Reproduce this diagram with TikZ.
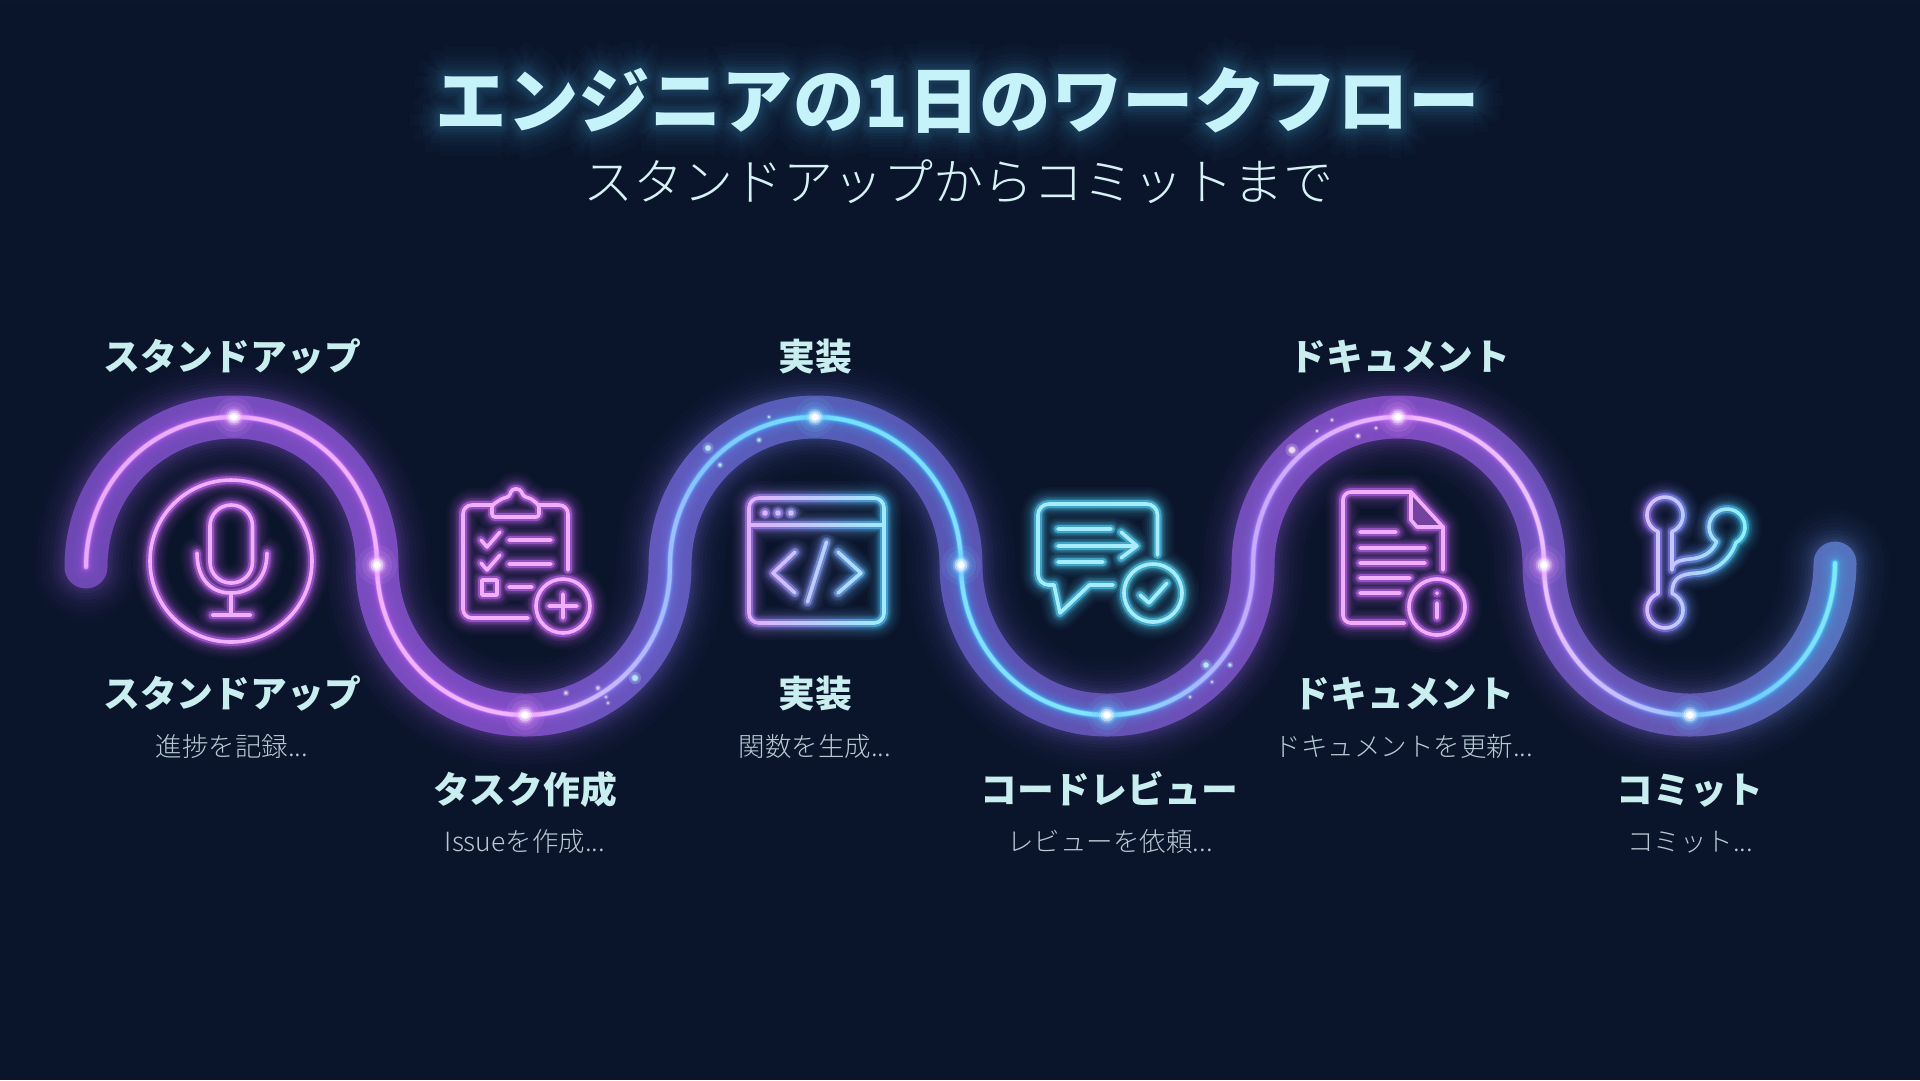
\documentclass[tikz,border=0pt]{standalone}
\usepackage{fontspec}
\usetikzlibrary{fadings,shadings}
\setmainfont{Noto Sans CJK JP}
\newfontfamily\jpfont{Noto Sans CJK JP}
\newfontfamily\jplight{Noto Sans CJK JP Light}
\definecolor{bgc}{HTML}{0A142A}
\definecolor{gridc}{HTML}{101C36}
\definecolor{titlec}{HTML}{C6F3F9}
\definecolor{labelc}{HTML}{C8EEF0}
\definecolor{subc}{HTML}{B6C8D2}
\definecolor{subtc}{HTML}{D6F2F6}
\definecolor{tglow}{HTML}{3C96C4}
\definecolor{sparkp}{HTML}{E89CFF}
\definecolor{sparkb}{HTML}{66C4FF}
% --- shading colour stops: stop = 25 + x/38.4
\pgfdeclarehorizontalshading{bandshade}{100bp}{
 rgb(0bp)=(.44,.29,.72); rgb(25bp)=(.44,.29,.72); rgb(31.09bp)=(.49,.31,.78);
 rgb(38.67bp)=(.51,.31,.79); rgb(42.45bp)=(.40,.37,.78); rgb(46.22bp)=(.35,.39,.75);
 rgb(50.03bp)=(.37,.35,.74); rgb(53.83bp)=(.41,.34,.74); rgb(57.63bp)=(.48,.32,.77);
 rgb(61.41bp)=(.53,.31,.79); rgb(65.21bp)=(.44,.33,.75); rgb(69.01bp)=(.41,.37,.74);
 rgb(72.79bp)=(.35,.47,.78); rgb(75bp)=(.35,.47,.78); rgb(100bp)=(.35,.47,.78)}
\pgfdeclarehorizontalshading{glowshade}{100bp}{
 rgb(0bp)=(.70,.36,.95); rgb(25bp)=(.70,.36,.95); rgb(38.67bp)=(.72,.38,.97);
 rgb(42.45bp)=(.45,.55,1); rgb(46.22bp)=(.25,.70,1); rgb(50.03bp)=(.25,.70,1);
 rgb(53.83bp)=(.25,.72,1); rgb(57.63bp)=(.60,.48,1); rgb(61.41bp)=(.74,.38,.97);
 rgb(65.21bp)=(.68,.45,1); rgb(69.01bp)=(.35,.62,1); rgb(72.79bp)=(.25,.78,1);
 rgb(75bp)=(.25,.78,1); rgb(100bp)=(.25,.78,1)}
\pgfdeclarehorizontalshading{coreshade}{100bp}{
 rgb(0bp)=(.91,.66,.98); rgb(25bp)=(.91,.66,.98); rgb(35.42bp)=(.95,.70,1);
 rgb(38.67bp)=(.95,.72,1); rgb(41.7bp)=(.72,.72,1); rgb(43.2bp)=(.50,.78,1);
 rgb(46.22bp)=(.45,.88,1); rgb(50.03bp)=(.50,.88,1); rgb(53.83bp)=(.50,.90,1);
 rgb(55.73bp)=(.60,.76,1); rgb(57.63bp)=(.78,.66,1); rgb(61.41bp)=(.95,.72,1);
 rgb(65.21bp)=(.92,.76,1); rgb(67.19bp)=(.78,.74,1); rgb(69.01bp)=(.58,.78,1);
 rgb(70.83bp)=(.44,.82,1); rgb(72.79bp)=(.50,.92,.97); rgb(75bp)=(.50,.92,.97); rgb(100bp)=(.50,.92,.97)}
\pgfdeclarehorizontalshading{iconshade}{100bp}{
 rgb(0bp)=(.75,.38,.94); rgb(25bp)=(.75,.38,.94); rgb(43.23bp)=(.75,.38,.94);
 rgb(44.5bp)=(.69,.50,1); rgb(46.22bp)=(.54,.63,1); rgb(48.02bp)=(.31,.78,1);
 rgb(55.99bp)=(.31,.82,.94); rgb(58.85bp)=(.75,.38,.94); rgb(63.54bp)=(.75,.38,.94);
 rgb(67.7bp)=(.63,.44,1); rgb(68.75bp)=(.50,.56,1); rgb(70.31bp)=(.25,.78,.94);
 rgb(75bp)=(.25,.78,.94); rgb(100bp)=(.25,.78,.94)}
\pgfdeclarehorizontalshading{iconcore}{100bp}{
 rgb(0bp)=(.94,.69,1); rgb(25bp)=(.94,.69,1); rgb(43.23bp)=(.94,.69,1);
 rgb(44.5bp)=(.88,.69,1); rgb(46.22bp)=(.75,.80,1); rgb(48.02bp)=(.63,.92,1);
 rgb(55.99bp)=(.66,.93,1); rgb(58.85bp)=(.94,.69,1); rgb(63.54bp)=(.94,.69,1);
 rgb(67.7bp)=(.85,.75,1); rgb(68.75bp)=(.75,.78,1); rgb(70.31bp)=(.56,.94,1);
 rgb(75bp)=(.56,.94,1); rgb(100bp)=(.56,.94,1)}
% --- geometry
\newcommand\wavepath{(86,567) .. controls (86,484) and (151,417) .. (234,417)
 .. controls (316,417) and (377,484) .. (377,565)
 .. controls (377,648) and (443,715) .. (525,715)
 .. controls (607,715) and (670,649) .. (670,566)
 .. controls (670,484) and (733,417) .. (815,417)
 .. controls (897,417) and (961,484) .. (961,565)
 .. controls (961,648) and (1025,715) .. (1107,715)
 .. controls (1189,715) and (1253,649) .. (1253,566)
 .. controls (1253,484) and (1316,417) .. (1398,417)
 .. controls (1480,417) and (1544,484) .. (1544,565)
 .. controls (1544,648) and (1608,715) .. (1690,715)
 .. controls (1772,715) and (1835,646) .. (1835,563)}
\tikzset{wv/.style={line cap=round,line join=round},
 ic/.style={line cap=round,line join=round},
 canvasfade/.style={shade,path fading=#1,fit fading=false,fading transform={shift={(960,540)}}},
 tt/.style={anchor=base,inner sep=0pt,text=titlec,font=\jpfont\bfseries\fontsize{71.5}{75}\selectfont},
 st/.style={anchor=base,inner sep=0pt,text=subtc,font=\jplight\fontsize{50}{54}\selectfont},
 lb/.style={anchor=base,inner sep=0pt,text=labelc,font=\jpfont\bfseries\fontsize{36.8}{40}\selectfont},
 sb/.style={anchor=base,inner sep=0pt,text=subc,font=\jplight\fontsize{26.5}{30}\selectfont}}
\newcommand\iconpaths{%
 % microphone
 \draw[ic] (231,561) circle (81);
 \draw[ic,rounded corners=21] (210,505) rectangle (252.5,583);
 \draw[ic] (197,553) .. controls (197,580) and (212,593) .. (231,593) .. controls (250,593) and (267,580) .. (267,553);
 \draw[ic] (231,593) -- (231,615);
 \draw[ic] (212.5,615) -- (250.5,615);
 % clipboard
 \draw[ic,rounded corners=9] (568,570) -- (568,505) -- (539,505);
 \draw[ic,rounded corners=9] (492,505) -- (463,505) -- (463,618) -- (528,618);
 \draw[ic,rounded corners=3] (492,517) -- (492,505) -- (503,498) -- (509,497) -- (512,489) -- (520,489) -- (524,497) -- (530,498) -- (539,505) -- (539,517) -- cycle;
 \draw[ic] (481,540) -- (487,547) -- (500,532);
 \draw[ic] (509,540) -- (551,540);
 \draw[ic] (481,563) -- (487,570) -- (500,555);
 \draw[ic] (509,564) -- (551,564);
 \draw[ic] (482,580) rectangle (497,595);
 \draw[ic] (509,587) -- (532,587);
 \draw[ic] (563,606) circle (27);
 \draw[ic] (549,606) -- (577,606);
 \draw[ic] (563,594) -- (563,618);
 % code window
 \draw[ic,rounded corners=10] (749,498) rectangle (884,623);
 \draw[ic] (749,525) -- (884,525);
 \draw[ic] (765,513) circle (1.4);
 \draw[ic] (778,513) circle (1.4);
 \draw[ic] (791,513) circle (1.4);
 \draw[ic] (795,552) -- (773,573) -- (795,593);
 \draw[ic] (826.5,542) -- (807.5,602);
 \draw[ic] (838,552) -- (861,573) -- (838,593);
 % comment
 \draw[ic,rounded corners=11] (1157.5,555) -- (1157.5,504) -- (1038,504) -- (1038,585) -- (1054,585);
 \draw[ic] (1054,585) -- (1060,613) -- (1089.5,585) -- (1113,585);
 \draw[ic] (1058,529) -- (1111,529);
 \draw[ic] (1058,546) -- (1135,546);
 \draw[ic] (1121,532) -- (1137,546) -- (1121,558);
 \draw[ic] (1058,562) -- (1103,562);
 \draw[ic] (1153,593) circle (29);
 \draw[ic] (1140,595) -- (1149,603) -- (1167,583);
 % document
 \draw[ic,rounded corners=8] (1404.5,623) -- (1343,623) -- (1343,492) -- (1411,492);
 \draw[ic] (1411,492) -- (1443,527) -- (1443,570);
 \draw[ic] (1411,492) -- (1411,520) -- (1417,527) -- (1443,527);
 \draw[ic] (1360,532) -- (1396,532);
 \draw[ic] (1360,548) -- (1425,548);
 \draw[ic] (1360,563) -- (1425,563);
 \draw[ic] (1360,578) -- (1410,578);
 \draw[ic] (1360,593) -- (1400,593);
 \draw[ic] (1437,607) circle (28);
 \draw[ic] (1437,593) -- (1437,593.5);
 \draw[ic] (1437,603) -- (1437,618);
 % branch
 \draw[ic] (1672,531.6) arc[start angle=67,end angle=-247,radius=18]
   -- (1658,593.4) arc[start angle=247,end angle=-67,radius=18]
   .. controls (1672,578) and (1680,574) .. (1697,573)
   .. controls (1715,572) and (1730,560) .. (1736,542.6)
   arc[start angle=60,end angle=-235,radius=18]
   .. controls (1712,553) and (1702,558) .. (1690,559)
   .. controls (1680,560) and (1672,562) .. (1672,570) -- cycle;
}
% --- fadings
\begin{tikzfadingfrompicture}[name=titlefade,x=1pt,y=-1pt]
 \useasboundingbox (0,0) rectangle (1920,1080);
 \fill[black] (0,0) rectangle (1920,1080);
 \foreach \r/\g in {30/3,25/5,20/8,16/11,12/15,9/19,6/24,3/29}{
  \foreach \a in {0,30,...,330}{
   \node[tt,text=white!\g!black] at ([shift={(\a:\r)}]958,127) {エンジニアの1日のワークフロー};}}
\end{tikzfadingfrompicture}
\begin{tikzfadingfrompicture}[name=bandfade,x=1pt,y=-1pt]
 \useasboundingbox (0,0) rectangle (1920,1080);
 \fill[black] (0,0) rectangle (1920,1080);
 \foreach \w/\g in {109/3,99/5,90/8,81/11,73/15,66/20,59/26,53/32,48/38}{
  \draw[wv,line width=\w pt,color=white!\g!black] \wavepath;}
 \draw[wv,line width=43pt,color=white!94!black] \wavepath;
\end{tikzfadingfrompicture}
\begin{tikzfadingfrompicture}[name=lineglowfade,x=1pt,y=-1pt]
 \useasboundingbox (0,0) rectangle (1920,1080);
 \fill[black] (0,0) rectangle (1920,1080);
 \foreach \w/\g in {26/5,21/9,17/14,13/22,10/34,8/50,6.5/70}{
  \draw[wv,line width=\w pt,color=white!\g!black] \wavepath;}
\end{tikzfadingfrompicture}
\begin{tikzfadingfrompicture}[name=linecorefade,x=1pt,y=-1pt]
 \useasboundingbox (0,0) rectangle (1920,1080);
 \fill[black] (0,0) rectangle (1920,1080);
 \draw[wv,line width=5pt,color=white!55!black] \wavepath;
 \draw[wv,line width=3.8pt,color=white] \wavepath;
\end{tikzfadingfrompicture}
\begin{tikzfadingfrompicture}[name=iconglowfade,x=1pt,y=-1pt]
 \useasboundingbox (0,0) rectangle (1920,1080);
 \fill[black] (0,0) rectangle (1920,1080);
 \foreach \w/\g in {34/4,29/8,25/12,21/17,17/25,14/34,11/48,8/78}{
  \tikzset{ic/.append style={line width=\w pt,color=white!\g!black}}
  \iconpaths}
 \fill[white!60!black] (1411,492) -- (1443,527) -- (1417,527) -- (1411,520) -- cycle;
\end{tikzfadingfrompicture}
\begin{tikzfadingfrompicture}[name=iconcorefade,x=1pt,y=-1pt]
 \useasboundingbox (0,0) rectangle (1920,1080);
 \fill[black] (0,0) rectangle (1920,1080);
 \tikzset{ic/.append style={line width=3.6pt,color=white}}
 \iconpaths
\end{tikzfadingfrompicture}
\newcommand\sparkat[2]{%
 \fill[#2,opacity=.10] (#1) circle (20);
 \fill[#2,opacity=.14] (#1) circle (15);
 \fill[#2,opacity=.20] (#1) circle (11);
 \fill[#2!50!white,opacity=.35] (#1) circle (8.5);
 \fill[white,opacity=.45] (#1) circle (6.5);
 \fill[white,opacity=.6] (#1) circle (4.5);
 \fill[white] (#1) circle (3);}
\newcommand\dotat[3]{\fill[#3,opacity=.25] (#1) circle (#2*2.2);\fill[#3,opacity=.4] (#1) circle (#2*1.4);\fill[#3] (#1) circle (#2);}
\begin{document}
\begin{tikzpicture}[x=1pt,y=-1pt]
 \useasboundingbox (0,0) rectangle (1920,1080);
 \fill[bgc] (0,0) rectangle (1920,1080);
 \draw[gridc,line width=.6pt,opacity=.45,step=8pt] (0,0) grid (1920,-1080);
 % title glow
 \path[canvasfade=titlefade,shading=axis,left color=tglow,right color=tglow] (0,0) rectangle (1920,1080);
 % wave
 \path[canvasfade=bandfade,shading=bandshade] (0,0) rectangle (1920,1080);
 \path[canvasfade=lineglowfade,shading=glowshade] (0,0) rectangle (1920,1080);
 \path[canvasfade=linecorefade,shading=coreshade] (0,0) rectangle (1920,1080);
 % sparkles
 \coordinate (d1) at (635,678); \dotat{d1}{2.8}{cyan!30!white}
 \coordinate (d2) at (566,693); \dotat{d2}{1.6}{white!80!violet}
 \coordinate (d3) at (598,688); \dotat{d3}{1.6}{white!80!violet}
 \coordinate (d4) at (606,697); \dotat{d4}{1.2}{white!80!violet}
 \coordinate (d5) at (608,703); \dotat{d5}{1.2}{white!80!violet}
 \coordinate (d6) at (708,448); \dotat{d6}{2.6}{cyan!30!white}
 \coordinate (d7) at (720,465); \dotat{d7}{1.6}{cyan!30!white}
 \coordinate (d8) at (759,440); \dotat{d8}{1.6}{cyan!30!white}
 \coordinate (d9) at (769,417); \dotat{d9}{1.2}{cyan!30!white}
 \coordinate (d10) at (1206,665); \dotat{d10}{2.6}{cyan!30!white}
 \coordinate (d11) at (1230,665); \dotat{d11}{1.6}{cyan!30!white}
 \coordinate (d12) at (1212,682); \dotat{d12}{1.2}{cyan!30!white}
 \coordinate (d13) at (1190,697); \dotat{d13}{1.2}{cyan!30!white}
 \coordinate (d14) at (1292,450); \dotat{d14}{3.0}{white!85!violet}
 \coordinate (d15) at (1358,436); \dotat{d15}{1.6}{white!85!violet}
 \coordinate (d16) at (1332,420); \dotat{d16}{1.2}{white!85!violet}
 \coordinate (d17) at (1376,428); \dotat{d17}{1.2}{white!85!violet}
 \coordinate (d18) at (1317,431); \dotat{d18}{1.0}{white!85!violet}
 % sparks on the wave
 \coordinate (s1) at (234,417); \sparkat{s1}{sparkp}
 \coordinate (s2) at (377,565); \sparkat{s2}{sparkp}
 \coordinate (s3) at (525,715); \sparkat{s3}{sparkp}
 \coordinate (s4) at (815,417); \sparkat{s4}{sparkb}
 \coordinate (s5) at (961,565); \sparkat{s5}{sparkb}
 \coordinate (s6) at (1107,715); \sparkat{s6}{sparkb}
 \coordinate (s7) at (1398,417); \sparkat{s7}{sparkp}
 \coordinate (s8) at (1544,565); \sparkat{s8}{sparkp}
 \coordinate (s9) at (1690,715); \sparkat{s9}{sparkb}
 % icons
 \path[canvasfade=iconglowfade,shading=iconshade] (0,0) rectangle (1920,1080);
 \path[canvasfade=iconcorefade,shading=iconcore] (0,0) rectangle (1920,1080);
 % texts
 \node[tt] (title) at (958,127) {エンジニアの1日のワークフロー};
 \node[st] (subtitle) at (958,200) {スタンドアップからコミットまで};
 \node[lb] (t1) at (232,370) {スタンドアップ};
 \node[lb] (t3) at (815,370) {実装};
 \node[lb] (t5) at (1400,370) {ドキュメント};
 \node[lb] (b1) at (232,707) {スタンドアップ};
 \node[lb] (b3) at (815,707) {実装};
 \node[lb] (b5) at (1404,707) {ドキュメント};
 \node[lb] (b2) at (525,803) {タスク作成};
 \node[lb] (b4) at (1109,803) {コードレビュー};
 \node[lb] (b6) at (1690,803) {コミット};
 \node[sb] (n1) at (232,756) {進捗を記録...};
 \node[sb] (n3) at (815,756) {関数を生成...};
 \node[sb] (n5) at (1404,756) {ドキュメントを更新...};
 \node[sb] (n2) at (525,851) {Issueを作成...};
 \node[sb] (n4) at (1110,851) {レビューを依頼...};
 \node[sb] (n6) at (1690,851) {コミット...};
\end{tikzpicture}
\end{document}
